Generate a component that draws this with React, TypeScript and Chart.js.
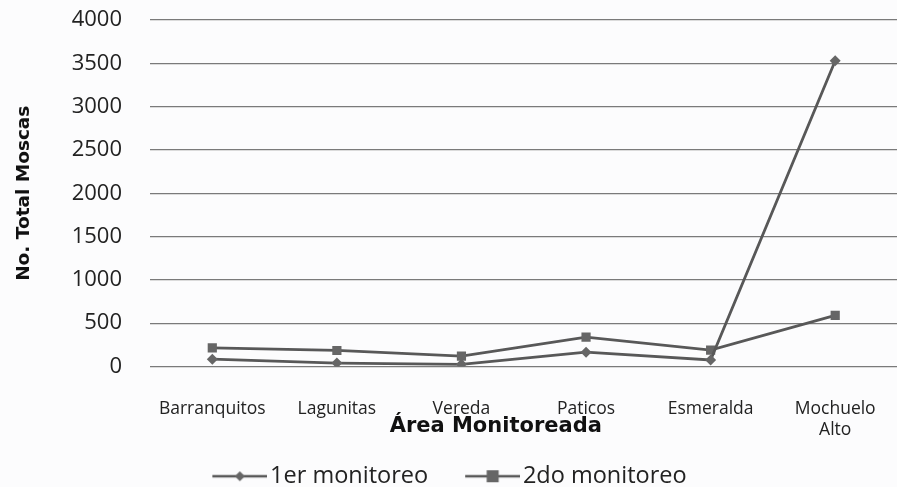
import React, { useEffect, useRef } from "react";
import { Chart, registerables } from "chart.js";

Chart.register(...registerables);

const categories: (string | string[])[] = [
  "Barranquitos",
  "Lagunitas",
  "Vereda",
  "Paticos",
  "Esmeralda",
  ["Mochuelo", "Alto"],
];
const primerMonitoreo = [85, 40, 25, 165, 75, 3530];
const segundoMonitoreo = [215, 185, 120, 340, 190, 590];
const seriesNames = ["1er monitoreo", "2do monitoreo"];
const yTicks = [0, 500, 1000, 1500, 2000, 2500, 3000, 3500, 4000];

const LINE = "#585858";
const MARK = "#666666";
const ICON_BOX = 81;
const ICON_W = 99;

function legendIcon(style: "diamond" | "square"): HTMLCanvasElement {
  const W = ICON_W;
  const c = document.createElement("canvas");
  c.width = W;
  c.height = 16;
  const ctx = c.getContext("2d")!;
  const x0 = W - 55;
  ctx.strokeStyle = LINE;
  ctx.lineWidth = 2.5;
  ctx.beginPath();
  ctx.moveTo(x0, 8);
  ctx.lineTo(W, 8);
  ctx.stroke();
  ctx.fillStyle = MARK;
  const cx = x0 + 27.5;
  if (style === "diamond") {
    ctx.beginPath();
    ctx.moveTo(cx, 3);
    ctx.lineTo(cx + 5, 8);
    ctx.lineTo(cx, 13);
    ctx.lineTo(cx - 5, 8);
    ctx.closePath();
    ctx.fill();
  } else {
    ctx.fillRect(cx - 6, 2, 12, 12);
  }
  return c;
}

const layoutTweaks = {
  id: "layoutTweaks",
  afterLayout(chart: any) {
    const lg = chart.legend;
    if (lg) {
      lg.left -= 24;
      lg.right -= 24;
      lg.top += 11;
      lg.bottom += 11;
    }
    const xs = chart.scales.x;
    if (xs && !xs.__titlePatched) {
      const orig = xs.drawTitle.bind(xs);
      xs.drawTitle = (...args: any[]) => {
        const ctx = chart.ctx;
        ctx.save();
        ctx.translate(-28, 0);
        orig(...args);
        ctx.restore();
      };
      xs.__titlePatched = true;
    }
  },
};

export default function App() {
  const ref = useRef<HTMLCanvasElement>(null);
  useEffect(() => {
    document.body.style.margin = "0";
    const canvas = ref.current!;
    const chart = new Chart(canvas, {
      type: "line",
      data: {
        labels: categories,
        datasets: [
          {
            label: seriesNames[0],
            data: primerMonitoreo,
            borderColor: LINE,
            backgroundColor: MARK,
            borderWidth: 2.8,
            pointStyle: "rectRot",
            pointRadius: 5.5,
            pointBorderWidth: 0,
            pointBackgroundColor: MARK,
            tension: 0,
          },
          {
            label: seriesNames[1],
            data: segundoMonitoreo,
            borderColor: LINE,
            backgroundColor: MARK,
            borderWidth: 2.8,
            pointStyle: "rect",
            pointRadius: 6.5,
            pointBorderWidth: 0,
            pointBackgroundColor: MARK,
            tension: 0,
          },
        ],
      },
      plugins: [layoutTweaks],
      options: {
        animation: false,
        responsive: false,
        maintainAspectRatio: false,
        layout: { padding: { left: 8, right: 0, top: 0, bottom: 0 } },
        plugins: {
          tooltip: { enabled: false },
          legend: {
            position: "bottom",
            labels: {
              usePointStyle: true,
              pointStyleWidth: ICON_BOX,
              color: "#222",
              font: { family: "Open Sans", size: 23.5 },
              padding: 2,
              boxHeight: 16,
              generateLabels: (ch: any) =>
                ch.data.datasets.map((ds: any, i: number) => ({
                  text: ds.label,
                  pointStyle: legendIcon(i === 0 ? "diamond" : "square"),
                  fillStyle: MARK,
                  strokeStyle: LINE,
                  lineWidth: 0,
                  hidden: false,
                  datasetIndex: i,
                  fontColor: "#222",
                })),
            },
          },
        },
        scales: {
          x: {
            offset: true,
            grid: { display: false },
            border: { display: false },
            ticks: {
              color: "#222",
              font: { family: "Open Sans", size: 17.5 },
              padding: 24,
              maxRotation: 0,
              autoSkip: false,
            },
            title: {
              display: true,
              text: "Área Monitoreada",
              color: "#111",
              font: { family: "DejaVu Sans", size: 21, weight: "bold" },
              padding: { top: 0, bottom: 12 },
            },
            afterFit: (s: any) => {
              s.height = 85;
              s.paddingLeft = 0;
              s.paddingRight = 0;
            },
          },
          y: {
            min: 0,
            max: 4000,
            afterBuildTicks: (s: any) => {
              s.ticks = yTicks.map((v) => ({ value: v }));
            },
            grid: {
              color: "#7a7a7a",
              lineWidth: 1.3,
              drawTicks: false,
            },
            border: { display: false },
            ticks: {
              color: "#222",
              font: { family: "Open Sans", size: 22 },
              padding: 28,
              callback: (v: any) => String(v),
            },
            title: {
              display: true,
              text: "No. Total Moscas",
              color: "#111",
              font: { family: "DejaVu Sans", size: 18.5, weight: "bold" },
              padding: { top: 5, bottom: 0 },
            },
            afterFit: (s: any) => {
              s.width = 142;
              s.paddingTop = 20;
              s.paddingBottom = 0;
            },
          },
        },
      },
    });
    return () => chart.destroy();
  }, []);
  return (
    <div
      style={{
        width: 897,
        height: 487,
        overflow: "hidden",
        background: "#fcfcfd",
      }}
    >
      <canvas ref={ref} width={904} height={487} style={{ display: "block" }} />
    </div>
  );
}
